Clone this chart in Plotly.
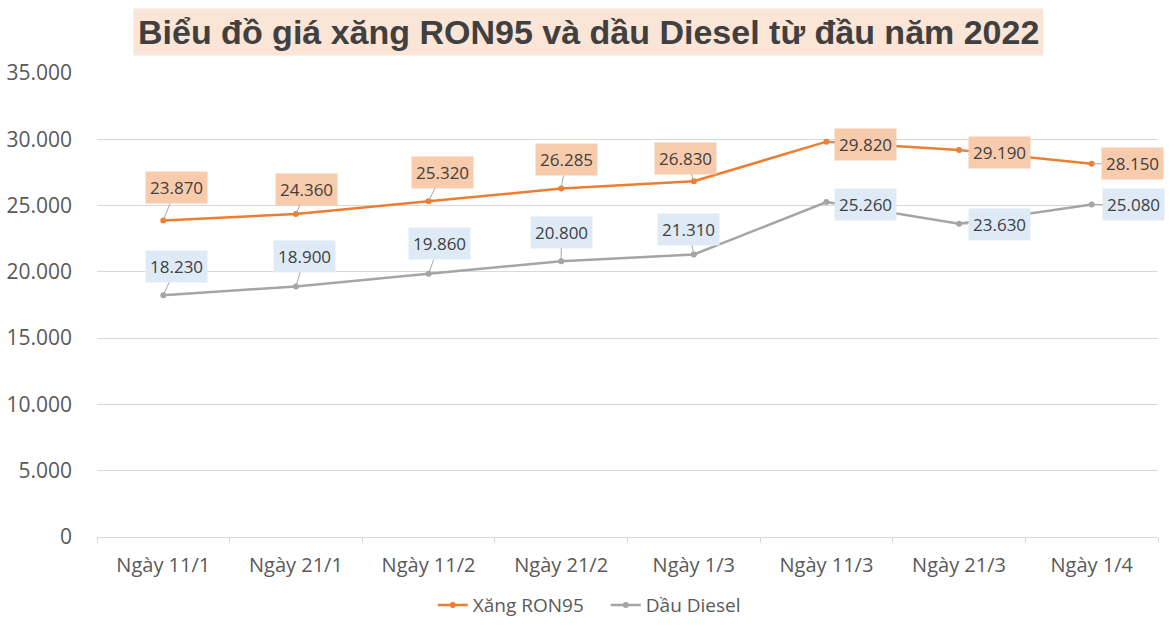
import plotly.graph_objects as go

categories = ["Ngày 11/1", "Ngày 21/1", "Ngày 11/2", "Ngày 21/2", "Ngày 1/3", "Ngày 11/3", "Ngày 21/3", "Ngày 1/4"]
ron95 = [23870, 24360, 25320, 26285, 26830, 29820, 29190, 28150]
diesel = [18230, 18900, 19860, 20800, 21310, 25260, 23630, 25080]
y_ticks = [0, 5000, 10000, 15000, 20000, 25000, 30000, 35000]

# label offsets (pixels) from each point
ron_off = [(13, -33), (11, -25), (14, -29), (5, -29), (-8, -23), (39, 3), (40, 2), (41, 0)]
die_off = [(13, -29), (9, -30), (11, -30), (0, -29), (-5, -25), (39, 2), (40, 1), (42, 0)]

ORANGE = "#ED7D31"
GRAY = "#A5A5A5"
FONT = "Open Sans"

fig = go.Figure()
fig.add_trace(go.Scatter(x=categories, y=ron95, name="Xăng RON95", mode="lines+markers",
                         line=dict(color=ORANGE, width=2.5), marker=dict(size=6, color=ORANGE)))
fig.add_trace(go.Scatter(x=categories, y=diesel, name="Dầu Diesel", mode="lines+markers",
                         line=dict(color=GRAY, width=2.5), marker=dict(size=6, color=GRAY)))

def fmt(v):
    return f"{v:,}".replace(",", ".")

anns = []
for xs, ys, offs, bg in [(categories, ron95, ron_off, "#F8CBAD"), (categories, diesel, die_off, "#DEEBF7")]:
    for c, v, (ax, ay) in zip(xs, ys, offs):
        anns.append(dict(x=c, y=v, xref="x", yref="y", text=fmt(v), showarrow=True,
                         arrowhead=0, arrowwidth=1, arrowcolor="#A6A6A6", ax=ax, ay=ay,
                         bgcolor=bg, borderpad=4, font=dict(family=FONT, size=17, color="#404040")))

anns.append(dict(x=0.5, y=1.0, xref="paper", yref="paper", yshift=41, xshift=-39,
                 text="<b>Biểu đồ giá xăng RON95 và dầu Diesel từ đầu năm 2022</b>",
                 showarrow=False, bgcolor="#FBE5D6", borderpad=4, xanchor="center", yanchor="middle",
                 font=dict(family="Liberation Sans", size=34, color="#404040")))

fig.update_layout(
    width=1174, height=627,
    margin=dict(l=97, r=16, t=73, b=90, autoexpand=False),
    paper_bgcolor="white", plot_bgcolor="white",
    separators=",.",
    annotations=anns,
    showlegend=True,
    legend=dict(orientation="h", xref="container", x=0.516, xanchor="center",
                yref="container", y=0.035, yanchor="middle",
                font=dict(family=FONT, size=19, color="#595959"), itemwidth=30,
                entrywidth=128, entrywidthmode="pixels"),
    xaxis=dict(type="category", showgrid=False, showline=True, linecolor="#D9D9D9", linewidth=1,
               ticks="outside", tickson="boundaries", ticklen=5, tickcolor="#D9D9D9",
               tickfont=dict(family=FONT, size=20, color="#595959"), range=[-0.5, 7.5],
               ticklabelstandoff=10, automargin=False),
    yaxis=dict(range=[0, 35000], tickvals=y_ticks, tickformat=",d", showgrid=True,
               gridcolor="#D9D9D9", gridwidth=1, zeroline=False, showline=False,
               tickfont=dict(family=FONT, size=21, color="#595959"), ticklabelstandoff=24,
               automargin=False),
)

fig.write_html("out.html", config={"displayModeBar": False},
               post_script="document.body.style.margin='0';")
